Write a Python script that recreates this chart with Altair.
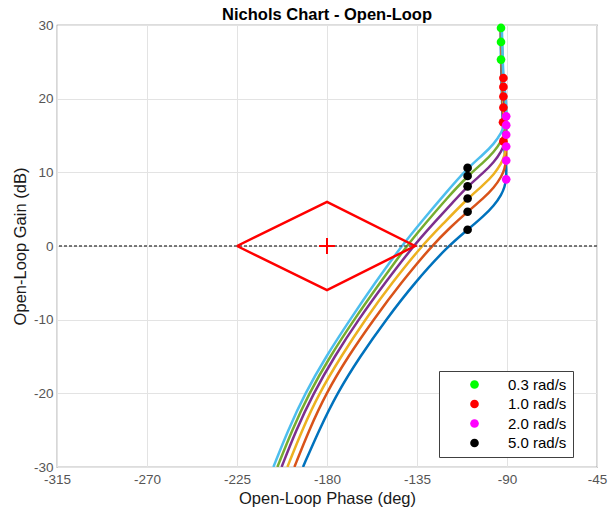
import altair as alt
import pandas as pd

# ---------------- data ----------------
curve_colors = ["#0072BD", "#D95319", "#EDB120", "#7E2F8E", "#77AC30", "#4DBEEE"]

c1_phase = [-192, -184, -175, -163.5, -150.5, -136.3, -119.5, -109.7, -101.9, -96.4, -92.7, -91.2, -90.4, -90.3, -91.0, -91.8, -92.3, -92.7, -93.0, -93.2]
c1_gain = [-30, -25, -20, -15, -10, -5, 0, 2.2, 4.0, 5.5, 7.0, 8.0, 9.05, 10.8, 12.5, 14.2, 18, 22, 25.3, 30]

c2_phase = [-196.3, -189, -180.5, -169.5, -156.8, -143, -127.7, -118.5, -109.7, -101.9, -96.4, -92.7, -91.2, -90.4, -90.3, -91.0, -92.0, -92.3, -92.7, -93.0, -93.1]
c2_gain = [-30, -25, -20, -15, -10, -5, 0, 2.5, 4.65, 6.45, 7.95, 9.45, 10.45, 11.6, 13.3, 15, 16.8, 20.5, 24.5, 27.7, 30]

c3_phase = [-199.8, -192.5, -184, -173, -161, -147.5, -132.7, -122, -109.7, -101.9, -96.4, -92.7, -91.2, -90.4, -90.3, -91.0, -91.8, -92.3, -92.7, -93.0, -93.05]
c3_gain = [-30, -25, -20, -15, -10, -5, 0, 3.0, 6.45, 8.25, 9.75, 11.25, 12.25, 13.5, 15.2, 17, 18.8, 22.5, 26.5, 29.6, 30]

c4_phase = [-202.7, -195.5, -186.8, -176.3, -164.3, -151, -136.8, -127, -116.8, -109.7, -101.9, -96.4, -92.7, -91.2, -90.4, -90.3, -91.0, -91.8, -92.3, -92.7, -92.9]
c4_gain = [-30, -25, -20, -15, -10, -5, 0, 3, 6, 8.1, 9.9, 11.4, 12.9, 13.9, 15.1, 16.8, 18.5, 20.3, 24, 28, 30]

c5_phase = [-204.8, -197.5, -189, -178.5, -166.5, -153.5, -140.2, -131, -120, -109.7, -101.9, -96.4, -92.7, -91.2, -90.4, -90.3, -91.0, -91.8, -92.3, -92.7, -92.75]
c5_gain = [-30, -25, -20, -15, -10, -5, 0, 3, 6.5, 9.5, 11.3, 12.8, 14.3, 15.3, 16.4, 18.1, 19.8, 21.6, 25.3, 29.3, 30]

c6_phase = [-206.8, -199.5, -191, -180.5, -168.5, -156, -142.7, -132.2, -121.3, -109.7, -101.9, -96.4, -92.7, -91.2, -90.4, -90.3, -91.0, -91.8, -92.3, -92.6]
c6_gain = [-30, -25, -20, -15, -10, -5, 0, 3.5, 7, 10.6, 12.4, 13.9, 15.4, 16.4, 17.6, 19.3, 21, 22.8, 26.5, 30]

freq_labels = ["0.3 rad/s", "1.0 rad/s", "2.0 rad/s", "5.0 rad/s"]
freq_colors = ["#00FF00", "#FF0000", "#FF00FF", "#000000"]

m03_phase = [-93.0, -93.0, -93.0]
m03_gain = [25.3, 27.7, 29.6]
m10_phase = [-91.8, -92.0, -91.8, -91.8, -91.8, -91.8]
m10_gain = [14.2, 16.8, 18.8, 20.3, 21.6, 22.8]
m20_phase = [-90.4, -90.4, -90.4, -90.4, -90.4, -90.4]
m20_gain = [9.05, 11.6, 13.5, 15.1, 16.4, 17.6]
m50_phase = [-109.7, -109.7, -109.7, -109.7, -109.7, -109.7]
m50_gain = [2.2, 4.65, 6.45, 8.1, 9.5, 10.6]

diamond_phase = [-225, -180, -136, -180, -225]
diamond_gain = [0, 6, 0, -6, 0]
center_phase = [-180]
center_gain = [0]

x_ticks = [-315, -270, -225, -180, -135, -90, -45]
y_ticks = [-30, -20, -10, 0, 10, 20, 30]

# ---------------- tables ----------------
rows = []
for k, (ph, g) in enumerate([(c1_phase, c1_gain), (c2_phase, c2_gain), (c3_phase, c3_gain),
                             (c4_phase, c4_gain), (c5_phase, c5_gain), (c6_phase, c6_gain)]):
    for i, (p, gg) in enumerate(zip(ph, g)):
        rows.append({"curve": str(k + 1), "idx": i, "phase": p, "gain": gg})
curves_df = pd.DataFrame(rows)

mrows = []
for lab, ph, g in zip(freq_labels, [m03_phase, m10_phase, m20_phase, m50_phase],
                      [m03_gain, m10_gain, m20_gain, m50_gain]):
    for p, gg in zip(ph, g):
        mrows.append({"freq": lab, "phase": p, "gain": gg})
markers_df = pd.DataFrame(mrows)

diamond_df = pd.DataFrame({"idx": list(range(len(diamond_phase))), "phase": diamond_phase, "gain": diamond_gain})
center_df = pd.DataFrame({"phase": center_phase, "gain": center_gain})

FONT = "Liberation Sans"
MINUS = "replace(datum.label, '\u2212', '-')"
xscale = alt.Scale(domain=[-315, -45], nice=False, zero=False)
yscale = alt.Scale(domain=[-30, 30], nice=False, zero=False)
xaxis = alt.Axis(values=x_ticks, title="Open-Loop Phase (deg)", grid=True, ticks=False, domain=False,
                 labelPadding=5, titlePadding=5, labelFlush=False, labelExpr=MINUS)
yaxis = alt.Axis(values=y_ticks, title="Open-Loop Gain (dB)", grid=True, ticks=False, domain=False,
                 labelPadding=4, titlePadding=5, labelFlush=False, labelExpr=MINUS)

lines = alt.Chart(curves_df).mark_line(strokeWidth=2.5, interpolate="basis", clip=True).encode(
    x=alt.X("phase:Q", scale=xscale, axis=xaxis),
    y=alt.Y("gain:Q", scale=yscale, axis=yaxis),
    color=alt.Color("curve:N", scale=alt.Scale(domain=["1", "2", "3", "4", "5", "6"], range=curve_colors), legend=None),
    detail="curve:N",
    order="idx:Q",
)

zero_line = alt.Chart(center_df).mark_rule(strokeDash=[3, 2], strokeWidth=1.5, color="#505050").encode(
    y=alt.datum(0, scale=yscale)
)

diamond = alt.Chart(diamond_df).mark_line(color="#FF0000", strokeWidth=2.5).encode(
    x=alt.X("phase:Q", scale=xscale),
    y=alt.Y("gain:Q", scale=yscale),
    order="idx:Q",
)

center = alt.Chart(center_df).mark_point(shape="M-1,0L1,0M0,-1L0,1", size=256, filled=False,
                                         strokeWidth=2, color="#FF0000", opacity=1).encode(
    x=alt.X("phase:Q", scale=xscale),
    y=alt.Y("gain:Q", scale=yscale),
)

markers = alt.Chart(markers_df).mark_circle(size=75, opacity=1).encode(
    x=alt.X("phase:Q", scale=xscale),
    y=alt.Y("gain:Q", scale=yscale),
    color=alt.Color("freq:N", scale=alt.Scale(domain=freq_labels, range=freq_colors),
                    legend=alt.Legend(title=None, orient="none", legendX=382, legendY=346,
                                      strokeColor="#404040", fillColor="white", padding=6,
                                      symbolType="circle", symbolSize=75, symbolStrokeWidth=0,
                                      labelFontSize=15, labelFont=FONT, labelColor="black",
                                      symbolOffset=22, labelOffset=26, rowPadding=3.5)),
)

chart = alt.layer(lines, zero_line, diamond, center, markers).resolve_scale(color="independent").properties(
    width=540, height=442,
    title=alt.TitleParams("Nichols Chart - Open-Loop", font=FONT, fontSize=16.5, fontWeight="bold",
                          color="black", anchor="middle", offset=-5),
    autosize=alt.AutoSizeParams(type="none"),
    padding={"left": 57, "top": 25, "right": 11, "bottom": 47},
).configure_view(stroke="#7a7a7a", strokeWidth=1.2).configure_axis(
    labelFont=FONT, labelFontSize=13.5, labelColor="#555555",
    titleFont=FONT, titleFontSize=16.5, titleFontWeight="normal", titleColor="#1a1a1a",
    gridColor="#e3e3e3", gridWidth=1,
)

chart.save("out.html", embed_options={"renderer": "svg", "actions": False})
